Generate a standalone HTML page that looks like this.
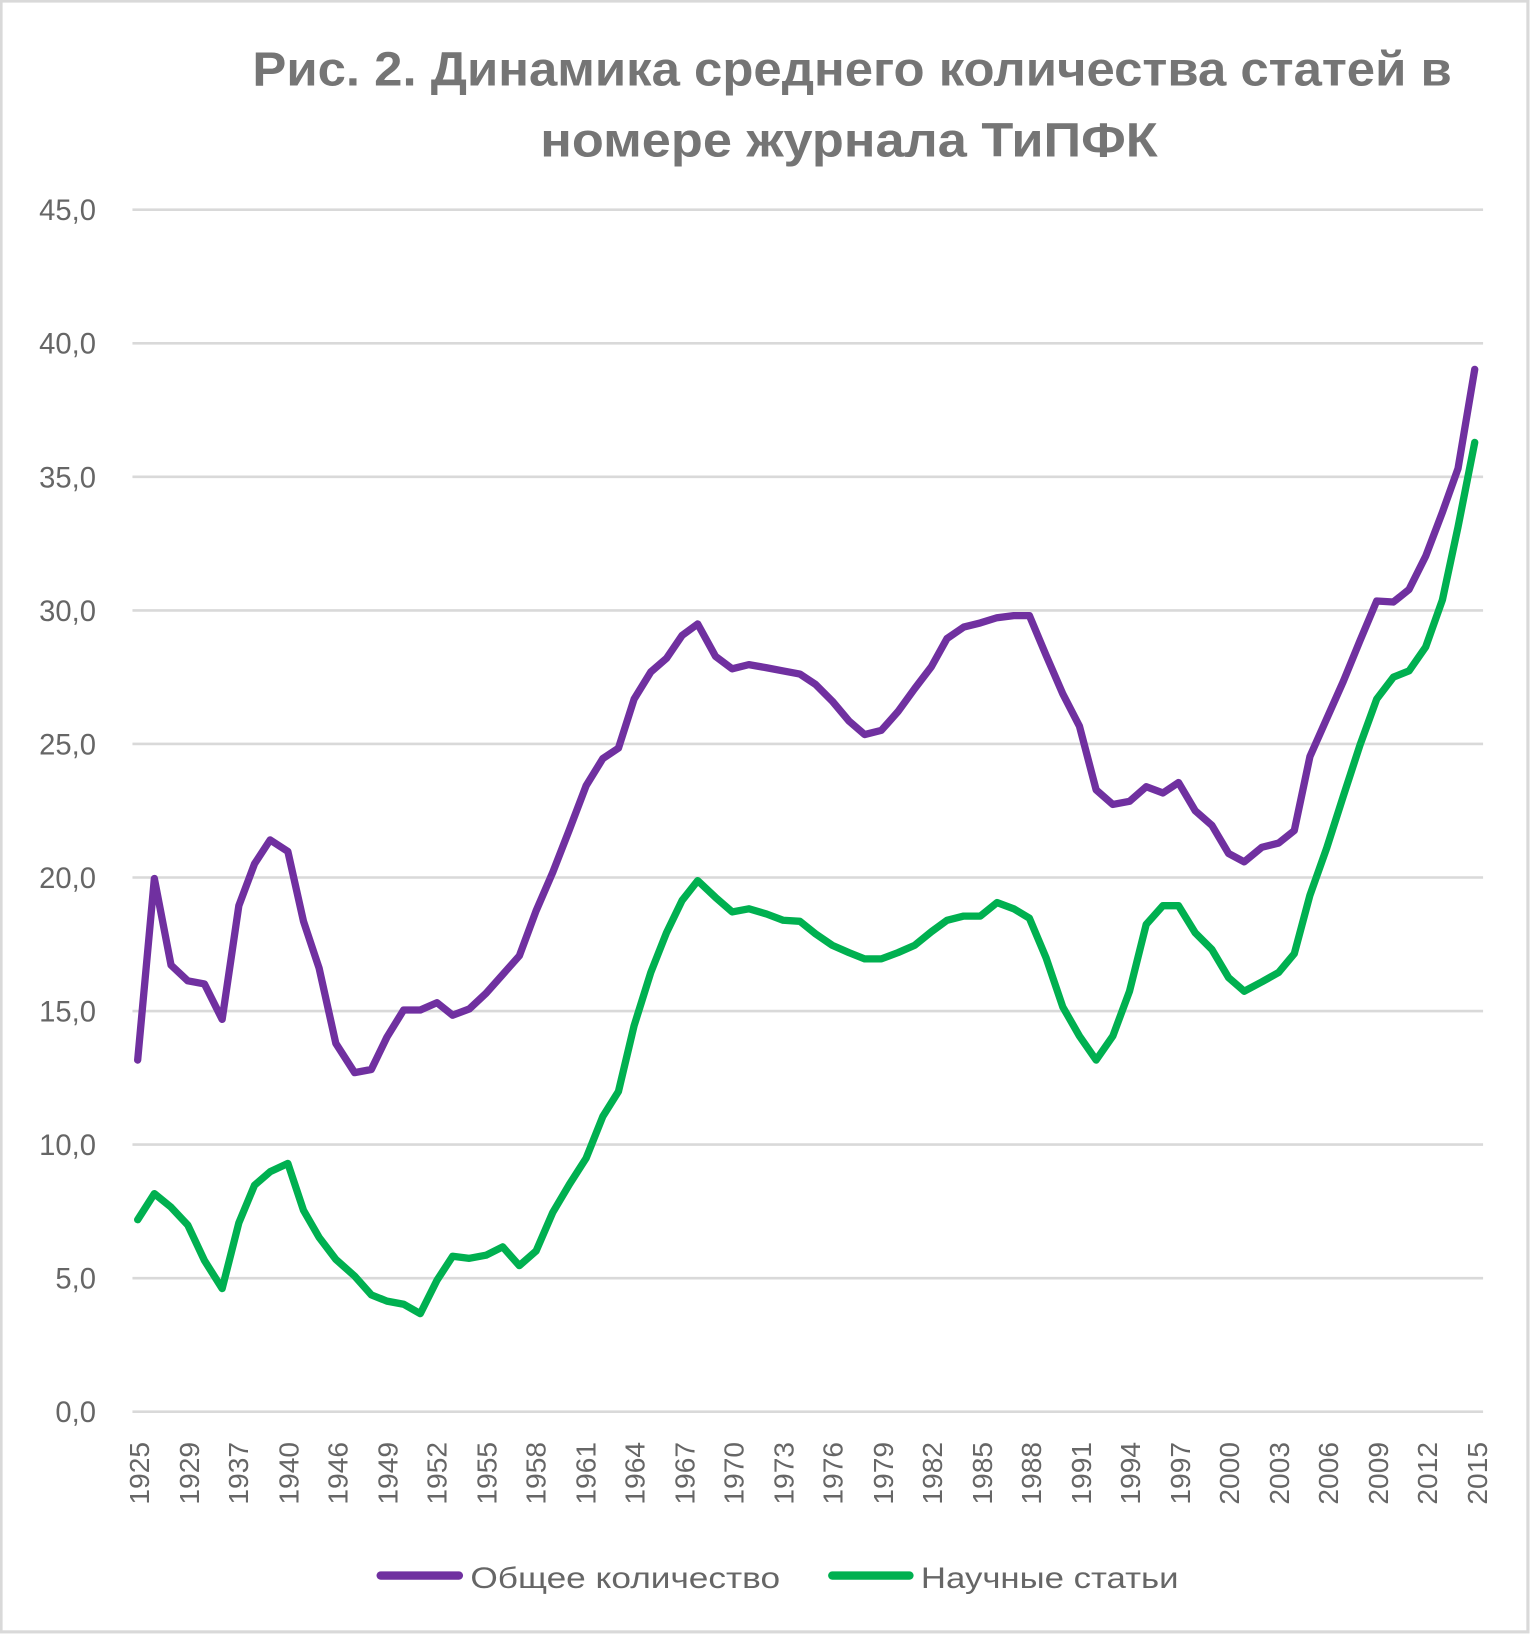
<!DOCTYPE html>
<html><head><meta charset="utf-8"><style>html,body{margin:0;padding:0;background:#fff}svg{display:block}</style></head>
<body>
<svg width="1530" height="1635" viewBox="0 0 1467 1567" preserveAspectRatio="none" xmlns="http://www.w3.org/2000/svg" font-family="'Liberation Sans', sans-serif">
<rect x="1" y="1" width="1464" height="1563" fill="#fff" stroke="#d9d9d9" stroke-width="3"/>
<text x="817" y="82" text-anchor="middle" font-size="46" font-weight="bold" fill="#757575" textLength="1150" lengthAdjust="spacingAndGlyphs">Рис. 2. Динамика среднего количества статей в</text>
<text x="814" y="150" text-anchor="middle" font-size="46" font-weight="bold" fill="#757575" textLength="592" lengthAdjust="spacingAndGlyphs">номере журнала ТиПФК</text>
<g stroke="#d9d9d9" stroke-width="2.5">
<line x1="127" x2="1422" y1="201" y2="201"/><line x1="127" x2="1422" y1="329" y2="329"/>
<line x1="127" x2="1422" y1="457" y2="457"/><line x1="127" x2="1422" y1="585" y2="585"/>
<line x1="127" x2="1422" y1="713" y2="713"/><line x1="127" x2="1422" y1="841" y2="841"/>
<line x1="127" x2="1422" y1="969" y2="969"/><line x1="127" x2="1422" y1="1097" y2="1097"/>
<line x1="127" x2="1422" y1="1225" y2="1225"/><line x1="127" x2="1422" y1="1353" y2="1353"/>
</g>
<g font-size="28" fill="#666" text-anchor="end">
<text x="92" y="211">45,0</text><text x="92" y="339">40,0</text><text x="92" y="467">35,0</text>
<text x="92" y="595">30,0</text><text x="92" y="723">25,0</text><text x="92" y="851">20,0</text>
<text x="92" y="979">15,0</text><text x="92" y="1107">10,0</text><text x="92" y="1235">5,0</text>
<text x="92" y="1363">0,0</text>
</g>
<polyline fill="none" stroke="#7030a0" stroke-width="7" stroke-linejoin="round" stroke-linecap="round" points="132,1016 148,842 164,925 180,940 196,943 213,977 229,868 244,828 259,805 276,816 291,883 306,928 322,1000 340,1028 356,1025 371,994 387,968 403,968 419,961 434,973 450,967 466,952 482,934 498,916 514,873 530,836 546,795 562,753 578,727 593,717 608,670 624,644 639,631 654,609 669,598 686,629 702,641 718,637 735,640 751,643 767,646 782,656 798,672 814,691 829,704 845,700 861,682 877,660 893,639 908,612 924,601 940,597 956,592 972,590 987,590 1003,628 1019,665 1035,696 1051,757 1067,771 1083,768 1099,754 1115,760 1130,750 1146,777 1162,791 1178,818 1193,826 1210,812 1226,808 1241,796 1256,725 1272,689 1288,653 1304,614 1320,576 1336,577 1351,565 1367,533 1383,491 1398,449 1414,354"/>
<polyline fill="none" stroke="#00b050" stroke-width="7" stroke-linejoin="round" stroke-linecap="round" points="132,1169 148,1144 164,1157 180,1174 196,1208 213,1235 229,1172 244,1136 259,1123 276,1115 291,1160 306,1186 322,1207 340,1223 356,1241 371,1247 387,1250 403,1259 419,1227 434,1204 450,1206 466,1203 482,1195 498,1213 514,1199 530,1162 546,1135 562,1110 578,1070 593,1046 608,983 624,932 639,894 654,863 669,844 686,860 702,874 718,871 735,876 751,882 767,883 782,895 798,906 814,913 829,919 845,919 861,913 877,906 893,893 908,882 924,878 940,878 956,865 972,871 987,880 1003,918 1019,965 1035,993 1051,1016 1067,993 1083,950 1099,886 1115,868 1130,868 1146,894 1162,910 1178,937 1193,950 1210,941 1226,932 1241,914 1256,858 1272,813 1288,763 1304,714 1320,670 1336,649 1351,643 1367,620 1383,575 1398,505 1414,424"/>
<g font-size="27" fill="#666" text-anchor="end">
<text transform="translate(143,1382) rotate(-90)">1925</text><text transform="translate(191,1382) rotate(-90)">1929</text>
<text transform="translate(238,1382) rotate(-90)">1937</text><text transform="translate(286,1382) rotate(-90)">1940</text>
<text transform="translate(333,1382) rotate(-90)">1946</text><text transform="translate(381,1382) rotate(-90)">1949</text>
<text transform="translate(428,1382) rotate(-90)">1952</text><text transform="translate(476,1382) rotate(-90)">1955</text>
<text transform="translate(523,1382) rotate(-90)">1958</text><text transform="translate(571,1382) rotate(-90)">1961</text>
<text transform="translate(618,1382) rotate(-90)">1964</text><text transform="translate(666,1382) rotate(-90)">1967</text>
<text transform="translate(713,1382) rotate(-90)">1970</text><text transform="translate(761,1382) rotate(-90)">1973</text>
<text transform="translate(808,1382) rotate(-90)">1976</text><text transform="translate(856,1382) rotate(-90)">1979</text>
<text transform="translate(903,1382) rotate(-90)">1982</text><text transform="translate(951,1382) rotate(-90)">1985</text>
<text transform="translate(998,1382) rotate(-90)">1988</text><text transform="translate(1046,1382) rotate(-90)">1991</text>
<text transform="translate(1093,1382) rotate(-90)">1994</text><text transform="translate(1141,1382) rotate(-90)">1997</text>
<text transform="translate(1188,1382) rotate(-90)">2000</text><text transform="translate(1236,1382) rotate(-90)">2003</text>
<text transform="translate(1283,1382) rotate(-90)">2006</text><text transform="translate(1331,1382) rotate(-90)">2009</text>
<text transform="translate(1378,1382) rotate(-90)">2012</text><text transform="translate(1426,1382) rotate(-90)">2015</text>
</g>
<line x1="365" x2="440" y1="1510" y2="1510" stroke="#7030a0" stroke-width="8" stroke-linecap="round"/>
<text x="451" y="1522" font-size="28" fill="#666" textLength="297" lengthAdjust="spacingAndGlyphs">Общее количество</text>
<line x1="798" x2="872" y1="1510" y2="1510" stroke="#00b050" stroke-width="8" stroke-linecap="round"/>
<text x="883" y="1522" font-size="28" fill="#666" textLength="247" lengthAdjust="spacingAndGlyphs">Научные статьи</text>
</svg>
</body></html>
